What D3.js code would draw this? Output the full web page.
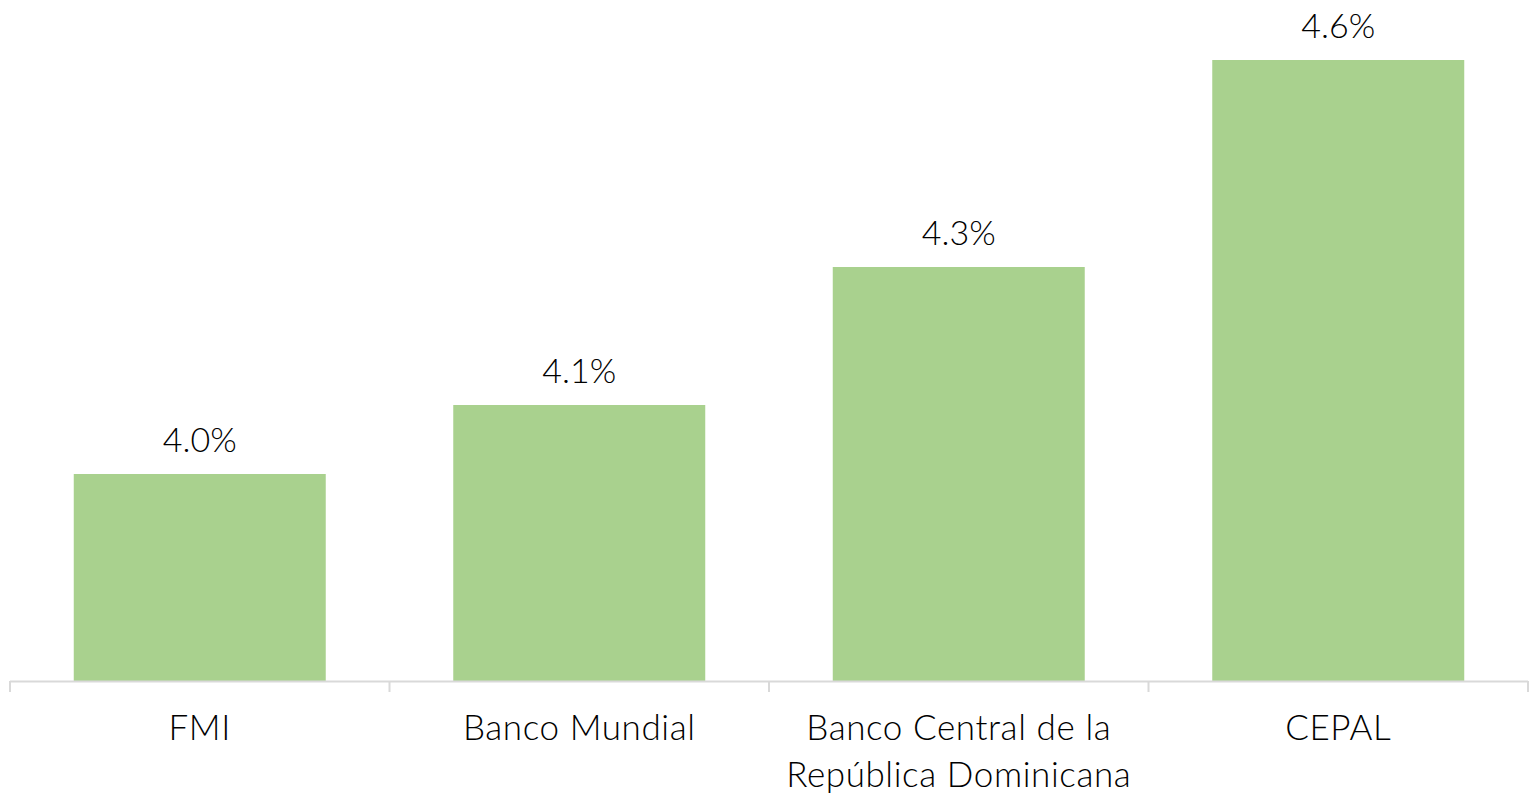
<!DOCTYPE html>
<html>
<head>
<meta charset="utf-8">
<script src="https://cdn.jsdelivr.net/npm/d3@7"></script>
<style>
  html, body { margin: 0; padding: 0; background: #fff; }
  .content { width: 1536px; height: 794px; }
  text { font-family: Lato, "Open Sans", sans-serif; font-weight: 300; fill: #000; }
</style>
</head>
<body>
<div class="content"></div>
<script>
var categories = [
  ['FMI'],
  ['Banco Mundial'],
  ['Banco Central de la', 'República Dominicana'],
  ['CEPAL']
];
var values = [4.0, 4.1, 4.3, 4.6];
var yDomain = [3.7, 4.7];

var data = categories.map(function (c, i) {
  return { name: c.join(' '), lines: c, value: values[i] };
});

var svgWidth = 1536, svgHeight = 794;
var margin = { left: 10, right: 8, top: -9, bottom: 113 };
var width = svgWidth - margin.left - margin.right,
  height = svgHeight - margin.top - margin.bottom;

var svg = d3.select('.content')
  .append('svg')
  .attr('width', svgWidth)
  .attr('height', svgHeight);

var g = svg.append('g')
  .attr('transform', 'translate(' + margin.left + ',' + margin.top + ')');

var x = d3.scaleBand()
  .range([0, width])
  .paddingInner(0.336)
  .paddingOuter(0.168)
  .domain(data.map(function (d) { return d.name; }));

var y = d3.scaleLinear()
  .range([height, 0])
  .domain(yDomain);

// bars
g.selectAll('.bar')
  .data(data)
  .enter()
  .append('rect')
  .attr('class', 'bar')
  .attr('x', function (d) { return x(d.name); })
  .attr('y', function (d) { return y(d.value); })
  .attr('width', x.bandwidth())
  .attr('height', function (d) { return height - y(d.value); })
  .attr('fill', '#a9d18e');

// value labels
g.selectAll('.label')
  .data(data)
  .enter()
  .append('text')
  .attr('class', 'label')
  .attr('x', function (d) { return x(d.name) + x.bandwidth() / 2; })
  .attr('y', function (d) { return y(d.value) - 22; })
  .attr('text-anchor', 'middle')
  .style('font-size', '34px')
  .text(function (d) { return d.value.toFixed(1) + '%'; });

// x axis with tick marks between categories
var edges = d3.range(data.length + 1).map(function (i) { return i * width / data.length; });
var axis = g.append('g')
  .attr('class', 'axis axis--x')
  .attr('transform', 'translate(0,' + height + ')');

axis.append('line')
  .attr('x1', 0).attr('x2', width)
  .attr('y1', 0.5).attr('y2', 0.5)
  .attr('stroke', '#d9d9d9')
  .attr('stroke-width', 2);

axis.selectAll('.tick-mark')
  .data(edges)
  .enter()
  .append('line')
  .attr('class', 'tick-mark')
  .attr('x1', function (d) { return d; })
  .attr('x2', function (d) { return d; })
  .attr('y1', 0).attr('y2', 11)
  .attr('stroke', '#d9d9d9')
  .attr('stroke-width', 2);

var catText = axis.selectAll('.cat')
  .data(data)
  .enter()
  .append('text')
  .attr('class', 'cat')
  .attr('text-anchor', 'middle')
  .attr('transform', function (d) {
    return 'translate(' + (x(d.name) + x.bandwidth() / 2) + ',59)';
  })
  .style('font-size', '35px')
  .style('letter-spacing', '0.6px');

catText.selectAll('tspan')
  .data(function (d) { return d.lines; })
  .enter()
  .append('tspan')
  .attr('x', 0)
  .attr('dy', function (d, i) { return i === 0 ? 0 : 47; })
  .text(function (d) { return d; });
</script>
</body>
</html>
